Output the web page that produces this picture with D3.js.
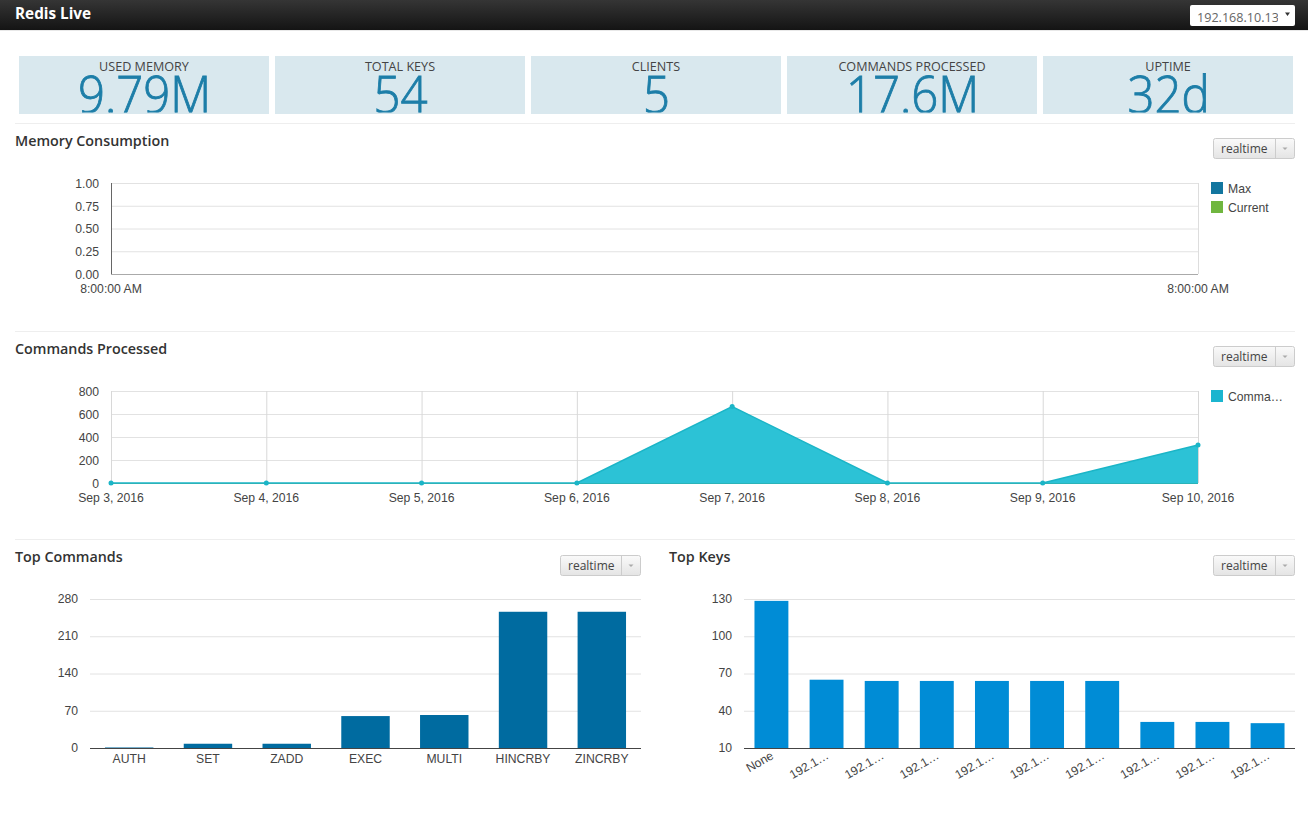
<!DOCTYPE html>
<html>
<head>
<meta charset="utf-8">
<title>Redis Live</title>
<script src="https://cdnjs.cloudflare.com/ajax/libs/d3/7.8.5/d3.min.js"></script>
<style>
html, body { margin: 0; padding: 0; background: #fff; overflow: hidden; }
svg { display: block; }
.ui { font-family: "Open Sans", sans-serif; }
.chart text { font-family: "Liberation Sans", Arial, sans-serif; font-size: 12.2px; fill: #444; }
.chart .domain { stroke: none; }
.chart .tick line { stroke: #e2e2e2; }
</style>
</head>
<body>
<script>
var statLabels = ['USED MEMORY', 'TOTAL KEYS', 'CLIENTS', 'COMMANDS PROCESSED', 'UPTIME'];
var statValues = ['9.79M', '54', '5', '17.6M', '32d'];

var memoryTicks = [0, 0.25, 0.5, 0.75, 1];
var memoryLabels = ['8:00:00 AM', '8:00:00 AM'];
var memoryLegend = ['Max', 'Current'];

var commandDates = ['Sep 3, 2016', 'Sep 4, 2016', 'Sep 5, 2016', 'Sep 6, 2016', 'Sep 7, 2016', 'Sep 8, 2016', 'Sep 9, 2016', 'Sep 10, 2016'];
var commandValues = [0, 0, 0, 0, 665, 0, 0, 330];
var commandTicks = [0, 200, 400, 600, 800];

var topCommands = ['AUTH', 'SET', 'ZADD', 'EXEC', 'MULTI', 'HINCRBY', 'ZINCRBY'];
var topCommandValues = [1, 8, 8, 60, 62, 256, 256];
var topCommandTicks = [0, 70, 140, 210, 280];

var topKeys = ['None', '192.1…', '192.1…', '192.1…', '192.1…', '192.1…', '192.1…', '192.1…', '192.1…', '192.1…'];
var topKeyIds = d3.range(topKeys.length);
var topKeyValues = [128.5, 65, 64, 64, 64, 64, 64, 31, 31, 30];
var topKeyTicks = [10, 40, 70, 100, 130];

var svg = d3.select('body').append('svg')
	.attr('width', 1308)
	.attr('height', 821);
var defs = svg.append('defs');

var headGrad = defs.append('linearGradient')
	.attr('id', 'head-grad')
	.attr('x1', 0).attr('y1', 0).attr('x2', 0).attr('y2', 1);
headGrad.append('stop').attr('offset', 0).attr('stop-color', '#353535');
headGrad.append('stop').attr('offset', 1).attr('stop-color', '#141414');

var btnGrad = defs.append('linearGradient')
	.attr('id', 'btn-grad')
	.attr('x1', 0).attr('y1', 0).attr('x2', 0).attr('y2', 1);
btnGrad.append('stop').attr('offset', 0).attr('stop-color', '#fafafa');
btnGrad.append('stop').attr('offset', 1).attr('stop-color', '#e4e4e4');

renderHeader();
renderStats();

renderSeparator(123, 15, 1295);
renderSeparator(331, 15, 1295);
renderSeparator(539, 15, 1295);

renderTitle('Memory Consumption', 15, 146);
renderTitle('Commands Processed', 15, 354);
renderTitle('Top Commands', 15, 562);
renderTitle('Top Keys', 669, 562);

renderButton(1213, 138, 81);
renderButton(1213, 346, 81);
renderButton(560, 555, 80);
renderButton(1213, 555, 81);

renderMemory();
renderCommands();
renderBars(topCommands, topCommands, topCommandValues, topCommandTicks, 90, 641, '#006ba0', false);
renderBars(topKeyIds, topKeys, topKeyValues, topKeyTicks, 744, 1295, '#008cd6', true);

function renderHeader(){
	svg.append('rect')
	.attr('y', 30)
	.attr('width', 1308)
	.attr('height', 1)
	.attr('fill', '#e8e8e8');

	svg.append('rect')
	.attr('width', 1308)
	.attr('height', 30)
	.attr('fill', 'url(#head-grad)');

	svg.append('text')
	.attr('class', 'ui')
	.attr('x', 15)
	.attr('y', 19)
	.attr('font-size', 15.3)
	.attr('font-weight', 700)
	.attr('fill', '#fff')
	.text('Redis Live');

	svg.append('rect')
	.attr('x', 1190)
	.attr('y', 5)
	.attr('width', 105)
	.attr('height', 21)
	.attr('rx', 2)
	.attr('fill', '#fff');

	defs.append('clipPath')
	.attr('id', 'select-clip')
	.append('rect')
	.attr('x', 1190).attr('y', 5).attr('width', 88).attr('height', 21);

	svg.append('text')
	.attr('class', 'ui')
	.attr('x', 1197)
	.attr('y', 22)
	.attr('font-size', 12.6)
	.attr('fill', '#666')
	.attr('clip-path', 'url(#select-clip)')
	.text('192.168.10.134');

	svg.append('path')
	.attr('d', 'M1285,12.5h5l-2.5,3.5z')
	.attr('fill', '#333');
}

function renderStats(){
	var x = d3.scalePoint()
	.domain(statLabels)
	.range([19, 1043]);

	var cards = svg.selectAll('.stat')
	.data(statLabels)
	.enter().append('g')
	.attr('class', 'stat ui')
	.attr('transform', function(d){ return 'translate(' + x(d) + ',56)'; });

	cards.append('clipPath')
	.attr('id', function(d, i){ return 'stat-clip-' + i; })
	.append('rect')
	.attr('width', 250)
	.attr('height', 56.5);

	cards.append('rect')
	.attr('width', 250)
	.attr('height', 58)
	.attr('fill', '#d9e8ee');

	// clip sits on an outer group, the scale on the text: the font is wider than the original
	cards.append('g')
	.attr('clip-path', function(d, i){ return 'url(#stat-clip-' + i + ')'; })
	.append('text')
	.attr('transform', 'translate(125.5,57) scale(.91,1)')
	.attr('text-anchor', 'middle')
	.attr('font-size', 52)
	.attr('font-weight', 300)
	.attr('fill', '#1d7ea8')
	.attr('stroke', '#1d7ea8')
	.attr('stroke-width', .9)
	.text(function(d, i){ return statValues[i]; });

	cards.append('text')
	.attr('x', 125)
	.attr('y', 15)
	.attr('text-anchor', 'middle')
	.attr('font-size', 12.6)
	.attr('fill', '#444')
	.text(function(d){ return d; });
}

function renderSeparator(y, x1, x2){
	svg.append('line')
	.attr('x1', x1)
	.attr('x2', x2)
	.attr('y1', y + .5)
	.attr('y2', y + .5)
	.attr('stroke', '#eee');
}

function renderTitle(label, x, y){
	svg.append('text')
	.attr('class', 'ui')
	.attr('x', x)
	.attr('y', y)
	.attr('font-size', 14.3)
	.attr('font-weight', 600)
	.attr('fill', '#333')
	.text(label);
}

function renderButton(x, y, width){
	var g = svg.append('g')
	.attr('class', 'ui')
	.attr('transform', 'translate(' + x + ',' + y + ')');

	g.append('rect')
	.attr('x', .5)
	.attr('y', .5)
	.attr('width', width)
	.attr('height', 20)
	.attr('rx', 2)
	.attr('fill', 'url(#btn-grad)')
	.attr('stroke', '#ccc');

	g.append('line')
	.attr('x1', width - 18.5).attr('x2', width - 18.5)
	.attr('y1', .5).attr('y2', 20.5)
	.attr('stroke', '#ccc');

	g.append('text')
	.attr('x', 8)
	.attr('y', 15)
	.attr('font-size', 12)
	.attr('fill', '#444')
	.text('realtime');

	g.append('path')
	.attr('d', 'M' + (width - 11.5) + ',9.5h5l-2.5,2.5z')
	.attr('fill', '#aaa');
}

function renderLegend(labels, colors, x, y){
	var g = svg.append('g').attr('class', 'chart');

	labels.forEach(function(label, i){
		g.append('rect')
		.attr('x', x)
		.attr('y', y + i*19)
		.attr('width', 12)
		.attr('height', 12)
		.attr('fill', colors[i]);

		g.append('text')
		.attr('x', x + 17)
		.attr('y', y + i*19 + 10.5)
		.text(label);
	});
}

// horizontal grid lines with labels on the left, shared by all four charts
function renderYAxis(g, y, ticks, width, format, labelShift){
	var axis = d3.axisLeft(y)
	.tickValues(ticks)
	.tickSize(-width)
	.tickPadding(12)
	.tickFormat(format);

	g.append('g')
	.call(axis)
	.selectAll('text')
	.attr('transform', 'translate(0,' + labelShift + ')');
}

function renderMemory(){
	var g = svg.append('g')
	.attr('class', 'chart')
	.attr('transform', 'translate(111,183)');
	var width = 1087;
	var height = 91;

	var y = d3.scaleLinear().domain([0, 1]).range([height, 0]);
	var x = d3.scalePoint().domain(d3.range(memoryLabels.length)).range([0, width]);

	renderYAxis(g, y, memoryTicks, width, d3.format('.2f'), .4);

	g.append('line')
	.attr('y1', 0).attr('y2', height)
	.attr('x1', .5).attr('x2', .5)
	.attr('stroke', '#666');
	g.append('line')
	.attr('y1', height + .5).attr('y2', height + .5)
	.attr('x1', 0).attr('x2', width)
	.attr('stroke', '#aaa');
	g.append('line')
	.attr('y1', 0).attr('y2', height)
	.attr('x1', width + .5).attr('x2', width + .5)
	.attr('stroke', '#ddd');

	g.selectAll('.x-label')
	.data(memoryLabels)
	.enter().append('text')
	.attr('class', 'x-label')
	.attr('x', function(d, i){ return x(i); })
	.attr('y', height + 19)
	.attr('text-anchor', 'middle')
	.text(function(d){ return d; });

	renderLegend(memoryLegend, ['#13769f', '#70b63f'], 1211, 182);
}

function renderCommands(){
	var g = svg.append('g')
	.attr('class', 'chart')
	.attr('transform', 'translate(111,391)');
	var width = 1087;
	var height = 92;

	var x = d3.scalePoint().domain(commandDates).range([0, width]);
	var y = d3.scaleLinear().domain([0, 800]).range([height, 0]);

	renderYAxis(g, y, commandTicks, width, d3.format('d'), .4);

	g.selectAll('.v-grid')
	.data(commandDates)
	.enter().append('line')
	.attr('class', 'v-grid')
	.attr('x1', function(d){ return x(d) + .5; })
	.attr('x2', function(d){ return x(d) + .5; })
	.attr('y1', 0)
	.attr('y2', height)
	.attr('stroke', '#d8d8d8');

	var area = d3.area()
	.x(function(d, i){ return x(commandDates[i]); })
	.y0(y(0))
	.y1(function(d){ return y(d); });
	var line = d3.line()
	.x(function(d, i){ return x(commandDates[i]); })
	.y(function(d){ return y(d); });

	g.append('path')
	.attr('d', area(commandValues))
	.attr('fill', '#2cc2d6');
	g.append('path')
	.attr('d', line(commandValues))
	.attr('fill', 'none')
	.attr('stroke', '#1bb5c7')
	.attr('stroke-width', 1.5);

	g.append('line')
	.attr('x1', 0).attr('x2', width)
	.attr('y1', height + .5).attr('y2', height + .5)
	.attr('stroke', '#2bb3b8');

	g.selectAll('.point')
	.data(commandValues)
	.enter().append('circle')
	.attr('class', 'point')
	.attr('cx', function(d, i){ return x(commandDates[i]); })
	.attr('cy', function(d){ return y(d); })
	.attr('r', 2.5)
	.attr('fill', '#1bb5c7');

	g.selectAll('.x-label')
	.data(commandDates)
	.enter().append('text')
	.attr('class', 'x-label')
	.attr('x', function(d){ return x(d); })
	.attr('y', height + 18.5)
	.attr('text-anchor', 'middle')
	.text(function(d){ return d; });

	renderLegend(['Comma…'], ['#1bb5cf'], 1211, 390);
}

function renderBars(ids, labels, values, ticks, x1, x2, color, rotated){
	var width = x2 - x1;
	var height = 149;
	var g = svg.append('g')
	.attr('class', 'chart')
	.attr('transform', 'translate(' + x1 + ',599)');

	var x = d3.scaleBand().domain(ids).range([0, width]).paddingInner(.385).paddingOuter(.19);
	var y = d3.scaleLinear().domain([ticks[0], ticks[ticks.length - 1]]).range([height, 0]);

	renderYAxis(g, y, ticks, width, d3.format('d'), -.5);

	g.selectAll('.bar')
	.data(values)
	.enter().append('rect')
	.attr('class', 'bar')
	.attr('x', function(d, i){ return x(ids[i]); })
	.attr('y', function(d){ return y(d); })
	.attr('width', x.bandwidth())
	.attr('height', function(d){ return height - y(d); })
	.attr('fill', color);

	g.append('line')
	.attr('x1', 0).attr('x2', width)
	.attr('y1', height + .5).attr('y2', height + .5)
	.attr('stroke', '#444');

	var text = g.selectAll('.x-label')
	.data(labels)
	.enter().append('text')
	.attr('class', 'x-label')
	.text(function(d){ return d; });

	if(rotated){
		text
		.attr('text-anchor', 'end')
		.attr('transform', function(d, i){
			return 'translate(' + (x(ids[i]) + x.bandwidth()/2 + 3) + ',' + (height + 10) + ') rotate(-30)';
		});
	} else {
		text
		.attr('text-anchor', 'middle')
		.attr('x', function(d, i){ return x(ids[i]) + x.bandwidth()/2; })
		.attr('y', height + 15);
	}
}
</script>
</body>
</html>
